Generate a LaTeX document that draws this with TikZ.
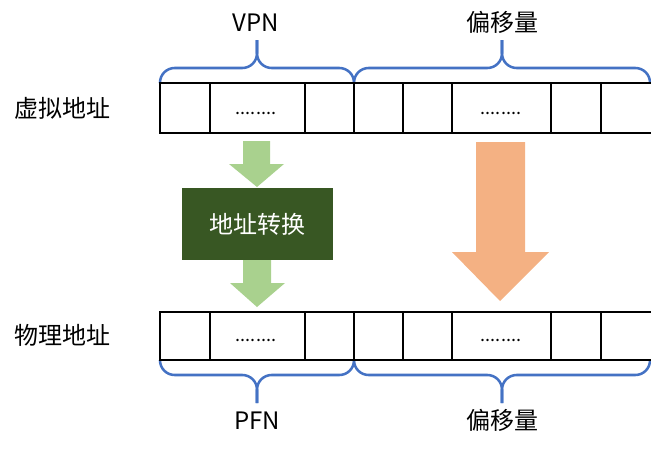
\documentclass[tikz,border=0pt]{standalone}
\usepackage{fontspec}
\setmainfont{Noto Sans CJK SC}
\definecolor{bracecol}{HTML}{4472C4}
\definecolor{arrgreen}{HTML}{A9D18E}
\definecolor{arrorange}{HTML}{F4B183}
\definecolor{boxgreen}{HTML}{385723}
\tikzset{
  lbl/.style={font=\fontsize{18}{20}\selectfont},
  dots/.style={font=\fontsize{13.5}{15}\selectfont},
  brc/.style={draw=bracecol,line width=1.9pt,rounded corners=11pt},
  cell/.style={draw=black,line width=2.2pt},
}
\begin{document}
\begin{tikzpicture}[x=0.75pt,y=-0.75pt]
\useasboundingbox (0,0) rectangle (651,450);
% labels
\node[lbl] (vpn) at (256,23) {VPN};
\node[lbl] (offtop) at (502,22) {偏移量};
\node[lbl] (virt) at (63,108) {虚拟地址};
\node[lbl] (phys) at (63,335) {物理地址};
\node[lbl] (pfn) at (257,421) {PFN};
\node[lbl] (offbot) at (502,420) {偏移量};
% braces (top)
\draw[brc] (160,83) |- (257,68) -- (257,40);
\draw[brc] (354,83) |- (257,68) -- (257,40);
\draw[brc] (354,83) |- (502,68) -- (502,40);
\draw[brc] (650,83) |- (502,68) -- (502,40);
% braces (bottom)
\draw[brc] (160,360) |- (257,375) -- (257,403);
\draw[brc] (354,360) |- (257,375) -- (257,403);
\draw[brc] (354,360) |- (502,375) -- (502,403);
\draw[brc] (650,360) |- (502,375) -- (502,403);
% virtual address row
\draw[cell] (160,83) rectangle (652,133);
\draw[cell] (210,83) -- (210,133);
\draw[cell] (305,83) -- (305,133);
\draw[cell] (354,83) -- (354,133);
\draw[cell] (403,83) -- (403,133);
\draw[cell] (452,83) -- (452,133);
\draw[cell] (551,83) -- (551,133);
\draw[cell] (601,83) -- (601,133);
\node[dots] (vdots1) at (256,113) {........};
\node[dots] (vdots2) at (501,113) {........};
% physical address row
\draw[cell] (160,312) rectangle (652,360);
\draw[cell] (210,312) -- (210,360);
\draw[cell] (305,312) -- (305,360);
\draw[cell] (354,312) -- (354,360);
\draw[cell] (403,312) -- (403,360);
\draw[cell] (452,312) -- (452,360);
\draw[cell] (551,312) -- (551,360);
\draw[cell] (601,312) -- (601,360);
\node[dots] (pdots1) at (256,340) {........};
\node[dots] (pdots2) at (501,340) {........};
% translation
\fill[arrgreen] (243,141) -- (270,141) -- (270,164) -- (284,164) -- (257,187) -- (229,164) -- (243,164) -- cycle;
\node[lbl,fill=boxgreen,text=white,minimum width=113pt,minimum height=54pt,inner sep=0pt] (xlat) at (257.5,224) {地址转换};
\fill[arrgreen] (243,260) -- (271,260) -- (271,283) -- (285,283) -- (257,307) -- (230,283) -- (243,283) -- cycle;
\fill[arrorange] (476,142) -- (525,142) -- (525,252) -- (549,252) -- (500,301) -- (452,252) -- (476,252) -- cycle;
\end{tikzpicture}
\end{document}
